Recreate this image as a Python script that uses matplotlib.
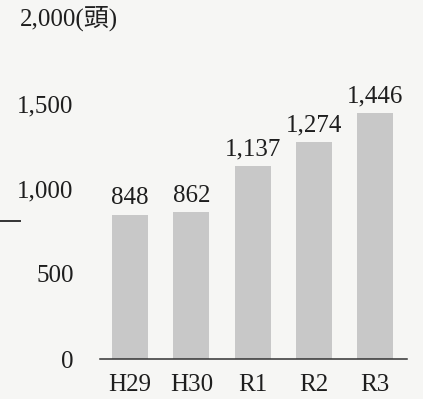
import matplotlib
matplotlib.use("Agg")
import matplotlib.pyplot as plt
from matplotlib.lines import Line2D

# 頭数の推移
years = ["H29", "H30", "R1", "R2", "R3"]
heads = [848, 862, 1137, 1274, 1446]
yticks = [0, 500, 1000, 1500, 2000]
ytick_labels = ["0", "500", "1,000", "1,500", ""]

W, H, DPI = 423, 399, 100
BG = "#f6f6f4"
INK = "#1e1e1e"
BAR = "#c8c8c8"
FS = 18

plt.rcParams["font.family"] = ["Liberation Serif", "Noto Sans CJK JP", "DejaVu Sans"]

fig = plt.figure(figsize=(W / DPI, H / DPI), dpi=DPI, facecolor=BG)
# axes placed in pixel units: x axis line 100..407, y 0 -> 359px, 2000 -> 19px
x0, x1, y0, y1 = 100, 407, 359, 19
ax = fig.add_axes([x0 / W, (H - y0) / H, (x1 - x0) / W, (y0 - y1) / H])
ax.set_facecolor(BG)

pos = list(range(len(years)))
bars = ax.bar(pos, heads, width=0.59, color=BAR, edgecolor="none", zorder=2)
ax.set_xlim(-0.49, 4.52)
ax.set_ylim(0, 2000)

for b, v in zip(bars, heads):
    ax.annotate(f"{v:,}", (b.get_x() + b.get_width() / 2, v),
                textcoords="offset points", xytext=(0, 4),
                ha="center", va="bottom", fontsize=FS, color=INK)

for s in ["top", "right", "left"]:
    ax.spines[s].set_visible(False)
ax.spines["bottom"].set_color("#333333")
ax.spines["bottom"].set_linewidth(1.1)

ax.set_xticks(pos)
ax.set_xticklabels(years, fontsize=FS, color=INK)
ax.set_yticks(yticks)
ax.set_yticklabels(ytick_labels, fontsize=FS, color=INK)
ax.tick_params(axis="x", length=0, pad=11)
ax.tick_params(axis="y", length=0, pad=19)

# 単位付きの最上段ラベル
ax.annotate("2,000(頭)", (0, 2000), xycoords=("axes fraction", "data"),
            textcoords="offset points", xytext=(-57.6, 0),
            ha="left", va="center", fontsize=FS, color=INK)

# 左端の短い線
fig.add_artist(Line2D([0 / W, 20 / W], [(H - 221) / H, (H - 221) / H],
                      color="#333333", lw=1.4))

fig.savefig("out.png", dpi=DPI, facecolor=BG)
